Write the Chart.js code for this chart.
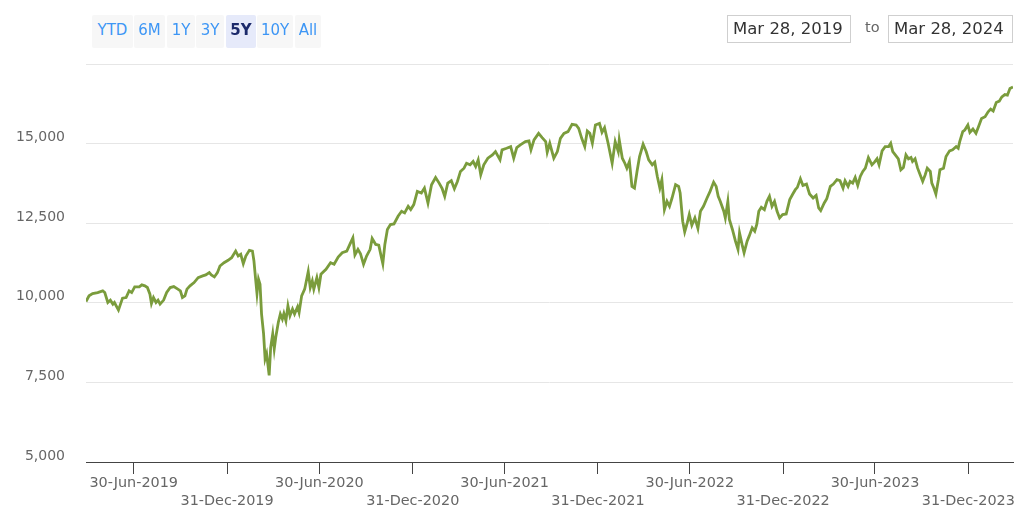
<!DOCTYPE html>
<html>
<head>
<meta charset="utf-8">
<script src="https://cdn.jsdelivr.net/npm/chart.js@4.4.1/dist/chart.umd.min.js"></script>
<style>
  body { margin: 0; background: #fff; font-family: "DejaVu Sans", sans-serif; }
  #wrap { position: relative; width: 1024px; height: 526px; overflow: hidden; }
  #chart { position: absolute; left: 0; top: 0; }
  .btn { position: absolute; top: 15px; height: 33px; line-height: 31px; background: #f7f7f7;
         color: #3d96f5; font-size: 15px; text-align: center; border-radius: 2px; }
  .btn.sel { background: #e6eafa; color: #1c2a6b; font-weight: bold; }
  .dbox { position: absolute; top: 15px; height: 26px; line-height: 26px; border: 1px solid #cfcfcf;
          color: #333; font-size: 16.5px; padding-left: 5px; box-sizing: content-box; }
  #to { position: absolute; left: 865px; top: 19px; color: #666; font-size: 14.5px; }
</style>
</head>
<body>
<div id="wrap">
  <canvas id="chart" width="1024" height="526"></canvas>
  <span class="btn" style="left:92px;width:41px">YTD</span>
  <span class="btn" style="left:134px;width:31px">6M</span>
  <span class="btn" style="left:167px;width:28px">1Y</span>
  <span class="btn" style="left:196px;width:28px">3Y</span>
  <span class="btn sel" style="left:226px;width:30px">5Y</span>
  <span class="btn" style="left:257px;width:36px">10Y</span>
  <span class="btn" style="left:295px;width:26px">All</span>
  <div class="dbox" style="left:727px;width:117px">Mar 28, 2019</div>
  <span id="to">to</span>
  <div class="dbox" style="left:888px;width:118px">Mar 28, 2024</div>
</div>
<script>
// index level, roughly every 5 days
const dates = [
  '2019-03-28','2019-04-03','2019-04-10','2019-04-20','2019-04-30','2019-05-04','2019-05-10','2019-05-15','2019-05-20','2019-05-23',
  '2019-05-31','2019-06-08','2019-06-15','2019-06-21','2019-06-26','2019-07-02','2019-07-11','2019-07-16','2019-07-22','2019-07-27',
  '2019-08-01','2019-08-04','2019-08-08','2019-08-13','2019-08-17','2019-08-21','2019-08-28','2019-09-03','2019-09-10','2019-09-17',
  '2019-09-25','2019-09-30','2019-10-04','2019-10-09','2019-10-13','2019-10-19','2019-10-27','2019-11-04','2019-11-13','2019-11-19',
  '2019-11-26','2019-11-30','2019-12-06','2019-12-12','2019-12-17','2019-12-25','2020-01-02','2020-01-09','2020-01-17','2020-01-22',
  '2020-01-27','2020-02-01','2020-02-06','2020-02-13','2020-02-19','2020-02-22','2020-02-25','2020-02-28','2020-03-02','2020-03-05',
  '2020-03-08','2020-03-12','2020-03-15','2020-03-18','2020-03-23','2020-03-26','2020-03-30','2020-04-02','2020-04-05','2020-04-10',
  '2020-04-14','2020-04-18','2020-04-21','2020-04-25','2020-04-29','2020-05-03','2020-05-08','2020-05-12','2020-05-18','2020-05-21',
  '2020-05-26','2020-06-01','2020-06-08','2020-06-12','2020-06-16','2020-06-19','2020-06-25','2020-06-29','2020-07-03','2020-07-13',
  '2020-07-22','2020-07-29','2020-08-06','2020-08-14','2020-08-23','2020-08-29','2020-09-04','2020-09-08','2020-09-14','2020-09-19',
  '2020-09-25','2020-10-01','2020-10-08','2020-10-12','2020-10-19','2020-10-25','2020-10-31','2020-11-02','2020-11-06','2020-11-11',
  '2020-11-17','2020-11-24','2020-12-02','2020-12-09','2020-12-15','2020-12-22','2020-12-27','2021-01-02','2021-01-09','2021-01-17',
  '2021-01-23','2021-01-30','2021-02-06','2021-02-14','2021-02-21','2021-02-27','2021-03-04','2021-03-10','2021-03-17','2021-03-23',
  '2021-03-29','2021-04-04','2021-04-11','2021-04-16','2021-04-23','2021-04-29','2021-05-04','2021-05-09','2021-05-14','2021-05-20',
  '2021-05-28','2021-06-06','2021-06-12','2021-06-21','2021-06-25','2021-07-04','2021-07-12','2021-07-18','2021-07-24','2021-07-31',
  '2021-08-10','2021-08-17','2021-08-21','2021-08-27','2021-09-05','2021-09-12','2021-09-19','2021-09-22','2021-09-27','2021-10-05',
  '2021-10-12','2021-10-18','2021-10-25','2021-11-02','2021-11-10','2021-11-18','2021-11-23','2021-11-29','2021-12-05','2021-12-10',
  '2021-12-15','2021-12-20','2021-12-26','2022-01-03','2022-01-08','2022-01-13','2022-01-20','2022-01-28','2022-02-03','2022-02-09',
  '2022-02-11','2022-02-17','2022-02-22','2022-02-26','2022-03-03','2022-03-08','2022-03-13','2022-03-18','2022-03-23','2022-03-30',
  '2022-04-05','2022-04-10','2022-04-17','2022-04-22','2022-04-27','2022-05-02','2022-05-06','2022-05-11','2022-05-16','2022-05-21',
  '2022-05-26','2022-06-02','2022-06-08','2022-06-11','2022-06-16','2022-06-20','2022-06-25','2022-06-29','2022-07-04','2022-07-10',
  '2022-07-16','2022-07-21','2022-07-27','2022-08-03','2022-08-09','2022-08-16','2022-08-21','2022-08-25','2022-08-29','2022-09-05',
  '2022-09-08','2022-09-13','2022-09-16','2022-09-22','2022-09-28','2022-10-03','2022-10-06','2022-10-11','2022-10-15','2022-10-21',
  '2022-10-25','2022-10-31','2022-11-05','2022-11-09','2022-11-13','2022-11-18','2022-11-24','2022-11-29','2022-12-04','2022-12-09',
  '2022-12-14','2022-12-19','2022-12-24','2022-12-30','2023-01-06','2023-01-13','2023-01-19','2023-01-24','2023-01-28','2023-02-03',
  '2023-02-08','2023-02-15','2023-02-21','2023-02-28','2023-03-06','2023-03-11','2023-03-15','2023-03-22','2023-03-27','2023-04-03',
  '2023-04-09','2023-04-16','2023-04-22','2023-04-28','2023-05-02','2023-05-08','2023-05-12','2023-05-17','2023-05-22','2023-05-27',
  '2023-06-01','2023-06-06','2023-06-11','2023-06-17','2023-06-24','2023-06-29','2023-07-04','2023-07-08','2023-07-14','2023-07-20',
  '2023-07-27','2023-07-31','2023-08-04','2023-08-09','2023-08-15','2023-08-20','2023-08-25','2023-08-30','2023-09-04','2023-09-09',
  '2023-09-12','2023-09-17','2023-09-22','2023-09-27','2023-10-02','2023-10-07','2023-10-11','2023-10-17','2023-10-20','2023-10-24',
  '2023-10-28','2023-11-02','2023-11-05','2023-11-12','2023-11-17','2023-11-24','2023-11-30','2023-12-07','2023-12-11','2023-12-14',
  '2023-12-20','2023-12-24','2023-12-30','2024-01-03','2024-01-09','2024-01-15','2024-01-20','2024-01-26','2024-02-02','2024-02-08',
  '2024-02-13','2024-02-18','2024-02-24','2024-03-01','2024-03-06','2024-03-12','2024-03-17','2024-03-22','2024-03-28'
];
const values = [
  10040,10219,10291,10322,10375,10322,10010,10084,9959,10010,
  9771,10146,10166,10375,10322,10500,10500,10562,10531,10479,
  10271,9978,10166,10010,10084,9959,10084,10322,10479,10510,
  10428,10375,10166,10219,10428,10531,10635,10791,10844,10875,
  10947,10875,10812,10947,11156,11260,11334,11416,11625,11469,
  11522,11228,11469,11647,11625,11312,10791,10291,10740,10584,
  9647,9022,8240,8397,7719,8603,9022,8553,8916,9384,
  9647,9490,9666,9437,9906,9594,9803,9647,9875,9697,
  10219,10428,10978,10479,10687,10428,10791,10479,10897,11053,
  11260,11209,11437,11572,11625,11834,12041,11500,11678,11541,
  11209,11469,11678,12022,11834,11812,11366,11228,11834,12303,
  12459,12478,12719,12875,12822,13031,12928,13084,13500,13447,
  13603,13134,13709,13937,13759,13584,13344,13759,13834,13584,
  13812,14125,14228,14384,14334,14437,14281,14491,14022,14334,
  14541,14647,14750,14491,14803,14853,14906,14541,14875,14959,
  15062,15084,14803,15116,15322,15187,15062,14728,15009,14541,
  14750,15166,15322,15375,15603,15584,15478,15166,14906,15397,
  15322,15009,15584,15634,15353,15500,15009,14384,15062,14750,
  15116,14541,14384,14228,14437,13656,13603,14125,14594,14978,
  14750,14491,14334,14416,13969,13603,13866,12928,13187,13031,
  13291,13709,13656,13447,12562,12228,12509,12772,12437,12666,
  12334,12875,13031,13291,13500,13791,13656,13344,13187,12875,
  12666,13187,12616,12303,11937,11678,12197,11834,11572,11937,
  12094,12353,12250,12459,12875,13000,12928,13187,13344,13031,
  13187,12875,12666,12772,12791,13241,13416,13553,13625,13897,
  13687,13728,13416,13291,13375,12978,12897,13134,13272,13656,
  13728,13866,13834,13603,13834,13656,13812,13759,13937,13687,
  13969,14125,14228,14562,14334,14416,14522,14334,14772,14906,
  14906,15009,14750,14647,14522,14178,14250,14647,14522,14562,
  14437,14522,14228,14022,13812,14022,14228,14125,13759,13603,
  13416,13866,14178,14228,14594,14772,14803,14906,14853,15062,
  15375,15428,15584,15353,15459,15322,15531,15791,15844,16000,
  16084,16022,16291,16334,16469,16541,16522,16728,16781
];
const tickDates = ['2019-06-30','2019-12-31','2020-06-30','2020-12-31','2021-06-30',
                   '2021-12-31','2022-06-30','2022-12-31','2023-06-30','2023-12-31'];
const monthNames = ['Jan','Feb','Mar','Apr','May','Jun','Jul','Aug','Sep','Oct','Nov','Dec'];
const yTicks = [5000, 7500, 10000, 12500, 15000, 17500];

function toDay(s) {
  const p = s.split('-');
  return Date.UTC(+p[0], +p[1] - 1, +p[2]) / 86400000;
}
function fmtDay(d) {
  const dt = new Date(d * 86400000);
  const dd = String(dt.getUTCDate()).padStart(2, '0');
  return dd + '-' + monthNames[dt.getUTCMonth()] + '-' + dt.getUTCFullYear();
}

const points = dates.map((d, i) => ({ x: toDay(d), y: values[i] }));
const tickDays = tickDates.map(toDay);

const ctx = document.getElementById('chart').getContext('2d');
const chart = new Chart(ctx, {
  type: 'line',
  data: {
    datasets: [{
      data: points,
      borderColor: '#7a9c3c',
      borderWidth: 2.8,
      pointRadius: 0,
      tension: 0,
      fill: false
    }]
  },
  options: {
    responsive: false,
    animation: false,
    devicePixelRatio: 1,
    layout: { padding: { top: 64, left: 0, right: 11, bottom: 0 } },
    plugins: { legend: { display: false }, tooltip: { enabled: false } },
    scales: {
      x: {
        type: 'linear',
        min: toDay(dates[0]),
        max: toDay(dates[dates.length - 1]),
        afterBuildTicks: (scale) => { scale.ticks = tickDays.map(v => ({ value: v })); },
        afterFit: (scale) => { scale.height = 64; },
        grid: { drawOnChartArea: false, drawTicks: true, tickLength: 12, color: '#444' },
        border: { display: true, color: '#444', width: 1 },
        ticks: {
          autoSkip: false,
          maxRotation: 0,
          padding: 0,
          color: '#666',
          font: { family: 'DejaVu Sans', size: 14.4, lineHeight: 1.25 },
          callback: (v, i) => i % 2 === 0 ? [fmtDay(v), ''] : ['', fmtDay(v)]
        }
      },
      y: {
        min: 5000,
        max: 17500,
        afterBuildTicks: (scale) => { scale.ticks = yTicks.map(v => ({ value: v })); },
        afterFit: (scale) => { scale.width = 86; },
        grid: { color: '#e6e6e6', drawTicks: false },
        border: { display: false },
        ticks: {
          padding: 21,
          labelOffset: -6,
          color: '#666',
          font: { family: 'DejaVu Sans', size: 14 },
          callback: (v) => v === 17500 ? '' : v.toLocaleString('en-US')
        }
      }
    }
  }
});
</script>
</body>
</html>
